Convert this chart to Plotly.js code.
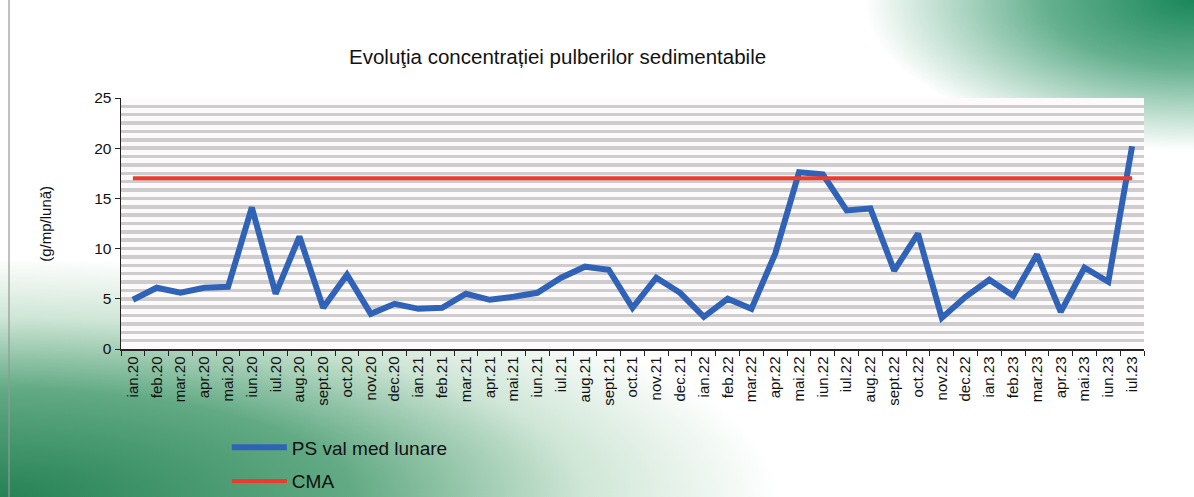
<!DOCTYPE html>
<html>
<head>
<meta charset="utf-8">
<script src="https://cdn.plot.ly/plotly-3.0.1.min.js"></script>
<style>
html,body{margin:0;padding:0;}
body{width:1194px;height:497px;overflow:hidden;position:relative;
background:
 radial-gradient(ellipse 330px 150px at 100% 0%, rgba(25,135,90,1) 0%, rgba(50,150,105,0.75) 45%, rgba(255,255,255,0) 100%),
 radial-gradient(ellipse 780px 240px at 0% 100%, rgba(38,130,85,1) 0%, rgba(70,155,110,0.85) 45%, rgba(150,200,165,0.45) 75%, rgba(255,255,255,0) 100%),
 #ffffff;
}
#edge{position:absolute;left:8px;top:0;width:2px;height:497px;background:rgba(150,150,150,0.6);}
#chart{position:absolute;left:0;top:0;width:1194px;height:497px;}
</style>
</head>
<body>
<div id="edge"></div>
<div id="chart"></div>
<script>
const months = ["ian.20","feb.20","mar.20","apr.20","mai.20","iun.20","iul.20","aug.20","sept.20","oct.20","nov.20","dec.20",
"ian.21","feb.21","mar.21","apr.21","mai.21","iun.21","iul.21","aug.21","sept.21","oct.21","nov.21","dec.21",
"ian.22","feb.22","mar.22","apr.22","mai.22","iun.22","iul.22","aug.22","sept.22","oct.22","nov.22","dec.22",
"ian.23","feb.23","mar.23","apr.23","mai.23","iun.23","iul.23"];
const psValues = [4.9,6.1,5.6,6.1,6.2,14.1,5.5,11.2,4.1,7.4,3.5,4.5,
4.0,4.1,5.5,4.9,5.2,5.6,7.1,8.2,7.9,4.1,7.1,5.6,
3.2,5.0,4.0,9.5,17.6,17.4,13.8,14.0,7.8,11.5,3.1,5.2,
6.9,5.3,9.4,3.7,8.1,6.7,20.2];
const cmaValue = 17;
const cmaValues = months.map(() => cmaValue);
const yTicks = [0,5,10,15,20,25];

const traces = [
 {x: months, y: psValues, type:'scatter', mode:'lines', name:'PS val med lunare',
  line:{color:'#3063b8', width:6}, legend:'legend', showlegend:true},
 {x: months, y: cmaValues, type:'scatter', mode:'lines', name:'CMA',
  line:{color:'#ee3a2c', width:4}, legend:'legend2', showlegend:true}
];

const legBase = {xref:'container', yref:'container', xanchor:'left', yanchor:'middle',
  bgcolor:'rgba(0,0,0,0)', font:{size:19, color:'#111'}, itemwidth:55, visible:true};

const layout = {
 width:1194, height:497,
 showlegend:true,
 margin:{l:121, r:50, t:98, b:148, autoexpand:false},
 paper_bgcolor:'rgba(0,0,0,0)',
 plot_bgcolor:'#fdfafb',
 font:{family:'Liberation Sans, Arial, sans-serif', color:'#111'},
 title:{text:'Evoluţia concentrației pulberilor sedimentabile', font:{size:20.5, color:'#111'},
  x:0.467, xanchor:'center', xref:'container', y:0.885, yanchor:'middle', yref:'container'},
 xaxis:{type:'category', tickangle:-90, tickfont:{size:15, color:'#111'},
  tickson:'boundaries', ticks:'outside', ticklen:5, tickcolor:'#222',
  showline:true, linecolor:'#222', linewidth:1.5, showgrid:false, zeroline:false,
  range:[-0.5, months.length-0.5]},
 yaxis:{range:[0,25], tickvals:yTicks, tickfont:{size:15.5, color:'#111'},
  ticks:'outside', ticklen:5, tickcolor:'#222', showline:true, linecolor:'#222', linewidth:1.5,
  showgrid:false, zeroline:false,
  minor:{dtick:25/30, showgrid:true, gridcolor:'#cfcccd', gridwidth:3.5, ticks:''}},
 legend:Object.assign({x:0.19, y:0.1}, legBase),
 legend2:Object.assign({x:0.19, y:0.032}, legBase),
 annotations:[{text:'(g/mp/lună)', xref:'paper', yref:'paper', x:-0.074, y:0.5, textangle:-90,
  showarrow:false, font:{size:15, color:'#111'}, xanchor:'center', yanchor:'middle'}]
};

Plotly.newPlot('chart', traces, layout, {displayModeBar:false, staticPlot:true});
</script>
</body>
</html>
